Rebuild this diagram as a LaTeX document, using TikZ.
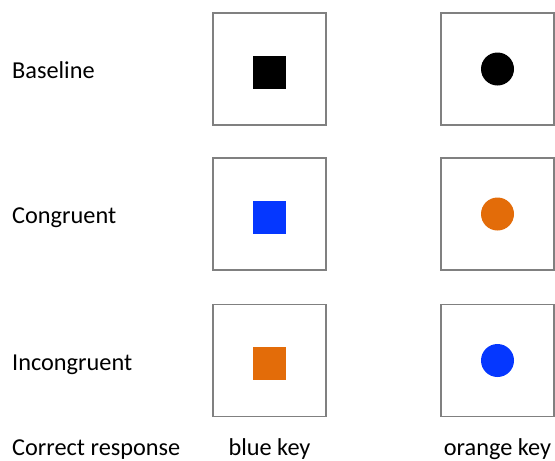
\documentclass[tikz,border=0pt]{standalone}
\usepackage{fontspec}
\setmainfont{Carlito}
\definecolor{keyblue}{RGB}{5,55,255}
\definecolor{keyorange}{RGB}{227,108,9}
\definecolor{frame}{RGB}{128,128,128}
\begin{document}
\begin{tikzpicture}[x=1pt,y=-1pt,
  panel/.style={draw=frame,line width=1.3pt,fill=white,minimum width=113pt,minimum height=112pt,inner sep=0pt},
  sq/.style={rectangle,minimum size=33pt,inner sep=0pt},
  dot/.style={circle,minimum size=33pt,inner sep=0pt},
  rowlabel/.style={anchor=base west,font=\fontsize{24.3}{28}\selectfont,inner sep=0pt},
  keylabel/.style={anchor=base,font=\fontsize{24.3}{28}\selectfont,inner sep=0pt}]
\useasboundingbox (0,0) rectangle (555,461);

% row labels
\node[rowlabel] (lbase) at (12,78.3) {Baseline};
\node[rowlabel] (lcong) at (12,223.3) {Congruent};
\node[rowlabel] (linc) at (12,370) {Incongruent};
\node[rowlabel] (lresp) at (12,455) {Correct response};

% panels: left column (square), right column (circle)
\node[panel] (p11) at (269.5,69) {};
\node[panel] (p12) at (497.5,69) {};
\node[panel] (p21) at (269.5,214) {};
\node[panel] (p22) at (497.5,214) {};
\node[panel] (p31) at (269.5,360.5) {};
\node[panel] (p32) at (497.5,360.5) {};

% stimuli: squares sit slightly below the panel centre
\node[sq,fill=black] (s11) at ([yshift=-3pt]p11.center) {};
\node[dot,fill=black] (s12) at (p12.center) {};
\node[sq,fill=keyblue] (s21) at ([yshift=-3pt]p21.center) {};
\node[dot,fill=keyorange] (s22) at (p22.center) {};
\node[sq,fill=keyorange] (s31) at ([yshift=-3pt]p31.center) {};
\node[dot,fill=keyblue] (s32) at (p32.center) {};

% response keys
\node[keylabel] (kblue) at (269.5,455) {blue key};
\node[keylabel] (korange) at (497.5,455) {orange key};
\end{tikzpicture}
\end{document}
